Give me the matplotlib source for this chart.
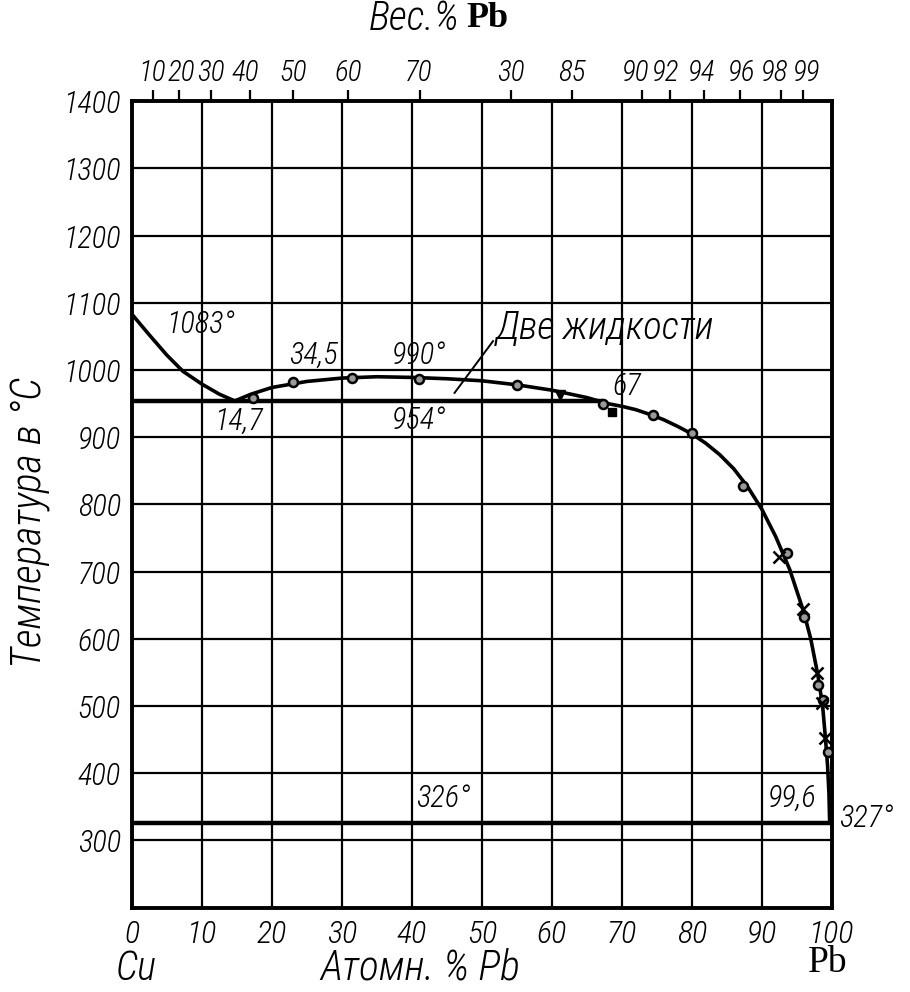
import numpy as np
import matplotlib
matplotlib.use('Agg')
import matplotlib.pyplot as plt
from matplotlib import font_manager as fm

avail = {f.name for f in fm.fontManager.ttflist}
narrow = [f for f in ['Roboto Condensed', 'Fira Sans Condensed', 'Archivo Narrow',
                      'Liberation Sans Narrow'] if f in avail]
plt.rcParams['font.family'] = narrow + ['DejaVu Sans']
plt.rcParams['font.style'] = 'italic'
plt.rcParams['font.weight'] = 'light'
k = 1.0 if narrow else 0.75   # plain DejaVu is much wider
fs = 22 * k
fs_top = 21 * k
fs_big = 29 * k

# liquidus from Cu side
cu_x = [0, 2.5, 5, 7.3, 10, 12.5, 14.7]
cu_T = [1083, 1052, 1022, 998, 979, 964, 954]

# miscibility gap / Pb-side liquidus
gap_x = [14.7, 17, 20, 25, 30, 35, 40, 45, 50, 55, 60, 65, 68, 70, 72, 74, 76, 78, 80, 82, 84,
         86, 88, 90, 92, 94, 96, 97, 98, 98.7, 99.1, 99.4, 99.6, 99.7]
gap_T = [954, 964, 974, 983, 988, 990, 989, 987, 984, 978, 970, 959, 950, 946, 941, 934, 926, 916, 905, 891, 874,
         853, 826, 793, 752, 703, 640, 600, 547, 500, 452, 412, 370, 328]

# experimental points
circ_x = [17.3, 23, 31.4, 41, 55, 67.3, 74.4, 80.1, 87.3, 93.6, 96.1, 98.0, 98.8, 99.4]
circ_T = [958, 982, 988, 987, 978, 950, 933, 907, 827, 728, 633, 531, 509, 432]
cross_x = [92.4, 95.9, 97.9, 98.6, 99.0]
cross_T = [722, 645, 549, 505, 452]
tri_x, tri_T = [61.1], [963]
sq_x, sq_T = [68.6], [937]

monotectic_T = 954
monotectic_end = 67
eutectic_T = 326

at_ticks = np.arange(0, 101, 10)
T_ticks = np.arange(300, 1401, 100)
# weight-% scale on top, tick places (in atomic %)
wt_pos = [3.0, 6.7, 11.3, 16.9, 23.0, 30.9, 41.1, 54.1, 62.9, 72.9, 76.9, 81.7, 86.9, 92.7, 95.9]
wt_labels = ['10', '20', '30', '40', '50', '60', '70', '30', '85', '90', '92', '94', '96', '98', '99']
# small sideways nudges of the crowded labels, in pixels
wt_nudge = [-1, 2, 0, -5, 0, 0, -1, 0, 0, -6, -4, -2, 2, -6, 4]

fig = plt.figure(figsize=(9.1, 9.92), dpi=100)
ax = fig.add_axes([0.145, 0.085, 0.769, 0.813])
ax.set_xlim(0, 100)
ax.set_ylim(200, 1400)

for x in at_ticks[1:-1]:
    ax.axvline(x, color='black', lw=1.6, zorder=1)
for t in T_ticks[:-1]:
    ax.axhline(t, color='black', lw=1.6, zorder=1)

ax.plot([0, monotectic_end], [monotectic_T, monotectic_T], color='black', lw=3.2, zorder=2)
ax.plot([0, 100], [eutectic_T, eutectic_T], color='black', lw=3.2, zorder=2)
ax.plot(cu_x, cu_T, color='black', lw=2.6, zorder=3)
ax.plot(gap_x, gap_T, color='black', lw=2.6, zorder=3)

ax.plot(circ_x, circ_T, 'o', ms=6.5, mfc='#999999', mec='black', mew=1.8, zorder=4)
ax.plot(cross_x, cross_T, 'x', ms=9, color='black', mew=1.8, zorder=4)
ax.plot(tri_x, tri_T, 'v', ms=7, color='black', zorder=4)
ax.plot(sq_x, sq_T, 's', ms=6, color='black', zorder=4)

for s in ax.spines.values():
    s.set_linewidth(2.8)

ax.set_xticks(at_ticks)
ax.set_xticklabels([str(v) for v in at_ticks], fontsize=fs + 1)
ax.set_yticks(T_ticks)
ax.set_yticklabels([str(v) for v in T_ticks], fontsize=fs)
ax.tick_params(length=0, pad=8)

top = ax.twiny()
top.set_xlim(0, 100)
top.set_xticks(wt_pos)
top.set_xticklabels([])
top.tick_params(direction='out', length=8, width=1.6)
for p, lab, dx in zip(wt_pos, wt_labels, wt_nudge):
    top.annotate(lab, xy=(p, 1), xycoords=('data', 'axes fraction'),
                 xytext=(dx * 0.72, 10), textcoords='offset points',
                 ha='center', va='bottom', fontsize=fs_top)

# annotations
ax.text(9.8, 1068, '1083°', fontsize=fs, ha='center', va='center')
ax.text(26, 1022, '34,5', fontsize=fs, ha='center', va='center')
ax.text(41, 1022, '990°', fontsize=fs, ha='center', va='center')
ax.text(15.2, 925, '14,7', fontsize=fs, ha='center', va='center')
ax.text(41, 925, '954°', fontsize=fs, ha='center', va='center')
ax.text(67.6, 1062, 'Две жидкости', fontsize=fs_big - 1, ha='center', va='center')
ax.plot([51.6, 46.1], [1043, 966], color='black', lw=1.4, zorder=3)
ax.text(70.7, 976, '67', fontsize=fs, ha='center', va='center')
ax.text(44.5, 363, '326°', fontsize=fs, ha='center', va='center')
ax.text(94.4, 363, '99,6', fontsize=fs, ha='center', va='center')
ax.text(105, 333, '327°', fontsize=fs, ha='center', va='center', clip_on=False)

fig.text(0.150, 0.024, 'Cu', fontsize=fs_big, ha='center', va='center')
fig.text(0.462, 0.024, 'Атомн. % Pb', fontsize=fs_big + 1, ha='center', va='center')
fig.text(0.909, 0.029, 'Pb', fontsize=fs_big - 2, ha='center', va='center',
         family=['Liberation Serif', 'DejaVu Serif'], style='normal', weight='normal')
fig.text(0.505, 0.981, 'Вес.%', fontsize=fs_big, ha='right', va='center')
fig.text(0.512, 0.981, 'Pb', fontsize=fs_big - 3, ha='left', va='center', weight='bold',
         family=['Liberation Serif', 'DejaVu Serif'], style='normal')
fig.text(0.033, 0.473, 'Температура в °C', fontsize=fs_big + 1, rotation=90, ha='center', va='center')

fig.savefig('out.png', dpi=100)
